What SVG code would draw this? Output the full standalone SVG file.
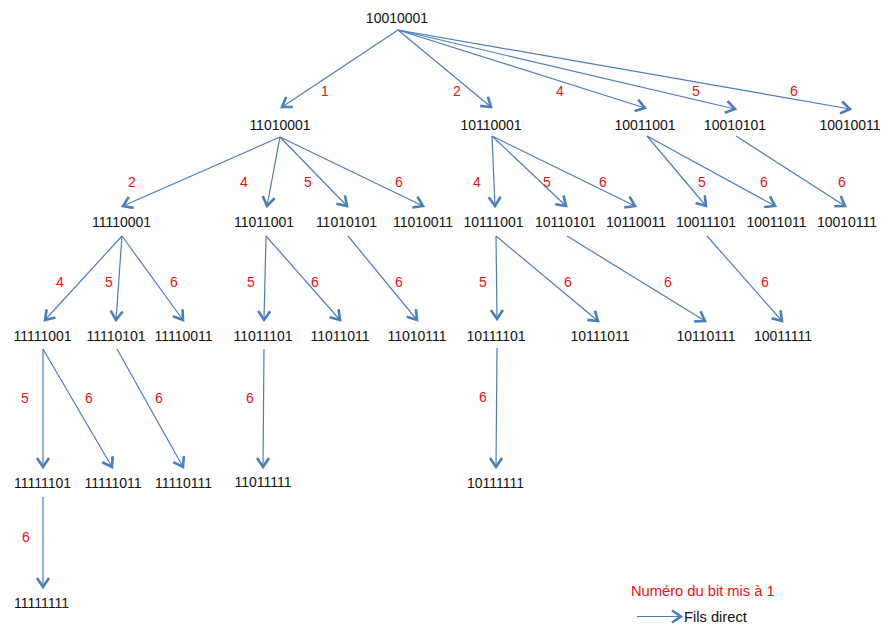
<svg xmlns="http://www.w3.org/2000/svg" width="883" height="633" viewBox="0 0 883 633">
<style>
.n{font-family:"Liberation Sans",Arial,sans-serif;font-size:14px;fill:#111;text-anchor:middle}
.l{font-family:"Liberation Sans",Arial,sans-serif;font-size:14px;fill:#ee1111;text-anchor:middle}
.e{stroke:#4a7ebb;stroke-width:1.2;fill:none;marker-end:url(#a)}
.lg{font-family:"Liberation Sans",Arial,sans-serif;font-size:14.7px}
</style>
<defs>
<marker id="a" markerUnits="userSpaceOnUse" markerWidth="16" markerHeight="16" viewBox="-11 -8 13 16" refX="0" refY="0" orient="auto">
<path d="M-9,-6 L0,0 L-9,6" fill="none" stroke="#4a7ebb" stroke-width="2.6" stroke-linejoin="miter"/>
</marker>
</defs>
<rect width="883" height="633" fill="#fff"/>
<g id="connectors">
<line class="e" x1="398" y1="30" x2="282" y2="107"/>
<line class="e" x1="398" y1="30" x2="491" y2="107"/>
<line class="e" x1="398" y1="30" x2="645" y2="108"/>
<line class="e" x1="398" y1="30" x2="735" y2="109"/>
<line class="e" x1="398" y1="30" x2="850" y2="109"/>
<line class="e" x1="280" y1="137" x2="123" y2="206"/>
<line class="e" x1="280" y1="137" x2="267" y2="206"/>
<line class="e" x1="280" y1="137" x2="347" y2="206"/>
<line class="e" x1="280" y1="137" x2="423" y2="206"/>
<line class="e" x1="492" y1="136" x2="495" y2="206"/>
<line class="e" x1="492" y1="136" x2="566" y2="206"/>
<line class="e" x1="492" y1="136" x2="635" y2="206"/>
<line class="e" x1="647" y1="136" x2="706" y2="206"/>
<line class="e" x1="647" y1="136" x2="775" y2="206"/>
<line class="e" x1="736" y1="136" x2="845" y2="206"/>
<line class="e" x1="122" y1="236" x2="45" y2="320"/>
<line class="e" x1="122" y1="236" x2="116" y2="320"/>
<line class="e" x1="122" y1="236" x2="183" y2="320"/>
<line class="e" x1="266" y1="236" x2="264" y2="320"/>
<line class="e" x1="266" y1="236" x2="340" y2="320"/>
<line class="e" x1="348" y1="236" x2="417" y2="320"/>
<line class="e" x1="496" y1="236" x2="497" y2="319"/>
<line class="e" x1="496" y1="236" x2="598" y2="321"/>
<line class="e" x1="567" y1="236" x2="705" y2="321"/>
<line class="e" x1="707" y1="236" x2="782" y2="321"/>
<line class="e" x1="43" y1="349" x2="43" y2="467"/>
<line class="e" x1="43" y1="349" x2="112" y2="467"/>
<line class="e" x1="117" y1="349" x2="183" y2="467"/>
<line class="e" x1="264" y1="349" x2="263" y2="467"/>
<line class="e" x1="497" y1="348" x2="496" y2="467"/>
<line class="e" x1="43" y1="497" x2="43" y2="587"/>
</g>
<g id="edge-labels">
<text class="l" x="325" y="96">1</text>
<text class="l" x="457" y="96">2</text>
<text class="l" x="560" y="96">4</text>
<text class="l" x="696" y="96">5</text>
<text class="l" x="794" y="96">6</text>
<text class="l" x="132" y="187">2</text>
<text class="l" x="244" y="187">4</text>
<text class="l" x="308" y="187">5</text>
<text class="l" x="399" y="187">6</text>
<text class="l" x="477" y="187">4</text>
<text class="l" x="547" y="187">5</text>
<text class="l" x="603" y="187">6</text>
<text class="l" x="702" y="187">5</text>
<text class="l" x="764" y="187">6</text>
<text class="l" x="842" y="187">6</text>
<text class="l" x="60" y="287">4</text>
<text class="l" x="109" y="287">5</text>
<text class="l" x="174" y="287">6</text>
<text class="l" x="251" y="287">5</text>
<text class="l" x="315" y="287">6</text>
<text class="l" x="399" y="287">6</text>
<text class="l" x="483" y="287">5</text>
<text class="l" x="568" y="287">6</text>
<text class="l" x="668" y="287">6</text>
<text class="l" x="765" y="287">6</text>
<text class="l" x="25" y="403">5</text>
<text class="l" x="89" y="403">6</text>
<text class="l" x="159" y="403">6</text>
<text class="l" x="250" y="403">6</text>
<text class="l" x="483" y="402">6</text>
<text class="l" x="26" y="542">6</text>
</g>
<g id="n10010001"><text class="n" x="397" y="22.5">10010001</text></g>
<g id="n11010001"><text class="n" x="280" y="129.5">11010001</text></g>
<g id="n10110001"><text class="n" x="491" y="129.5">10110001</text></g>
<g id="n10011001"><text class="n" x="645" y="129.5">10011001</text></g>
<g id="n10010101"><text class="n" x="735" y="129.5">10010101</text></g>
<g id="n10010011"><text class="n" x="850" y="129.5">10010011</text></g>
<g id="n11110001"><text class="n" x="121.5" y="227">11110001</text></g>
<g id="n11011001"><text class="n" x="264" y="227">11011001</text></g>
<g id="n11010101"><text class="n" x="346.5" y="227">11010101</text></g>
<g id="n11010011"><text class="n" x="423" y="227">11010011</text></g>
<g id="n10111001"><text class="n" x="493.5" y="227">10111001</text></g>
<g id="n10110101"><text class="n" x="565.5" y="227">10110101</text></g>
<g id="n10110011"><text class="n" x="636" y="227">10110011</text></g>
<g id="n10011101"><text class="n" x="706" y="227">10011101</text></g>
<g id="n10011011"><text class="n" x="776.5" y="227">10011011</text></g>
<g id="n10010111"><text class="n" x="847" y="227">10010111</text></g>
<g id="n11111001"><text class="n" x="42.5" y="341">11111001</text></g>
<g id="n11110101"><text class="n" x="116" y="341">11110101</text></g>
<g id="n11110011"><text class="n" x="183.5" y="341">11110011</text></g>
<g id="n11011101"><text class="n" x="263" y="341">11011101</text></g>
<g id="n11011011"><text class="n" x="340" y="341">11011011</text></g>
<g id="n11010111"><text class="n" x="417" y="341">11010111</text></g>
<g id="n10111101"><text class="n" x="496" y="341">10111101</text></g>
<g id="n10111011"><text class="n" x="600" y="341">10111011</text></g>
<g id="n10110111"><text class="n" x="706" y="341">10110111</text></g>
<g id="n10011111"><text class="n" x="783" y="341">10011111</text></g>
<g id="n11111101"><text class="n" x="42.5" y="488">11111101</text></g>
<g id="n11111011"><text class="n" x="113" y="488">11111011</text></g>
<g id="n11110111"><text class="n" x="183.5" y="488">11110111</text></g>
<g id="n11011111"><text class="n" x="263" y="487">11011111</text></g>
<g id="n10111111"><text class="n" x="495.5" y="488">10111111</text></g>
<g id="n11111111"><text class="n" x="41.5" y="608">11111111</text></g>
<g id="legend">
<text class="lg" x="631" y="596" fill="#ee1111">Numéro du bit mis à 1</text>
<line x1="637" y1="616.5" x2="681" y2="616.5" stroke="#4a7ebb" stroke-width="1.2" marker-end="url(#a)"/>
<text class="lg" x="684" y="622" fill="#111">Fils direct</text>
</g>
</svg>
